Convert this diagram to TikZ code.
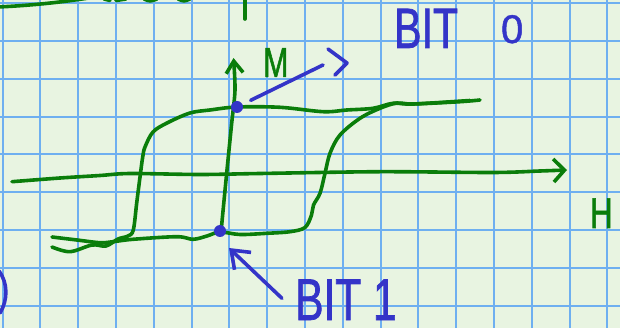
\documentclass[tikz,border=0pt]{standalone}
\usepackage{fontspec}
\setmainfont{Liberation Sans}
\newfontfamily\penfont[FakeStretch=0.72,FakeBold=1.2]{Liberation Sans}
\newfontfamily\roundfont[FakeBold=1.2]{Liberation Sans}
\usepackage{tikz}
\usetikzlibrary{arrows.meta, positioning}
\definecolor{paper}{RGB}{232,244,225}
\definecolor{gridblue}{RGB}{110,175,240}
\definecolor{penGreen}{RGB}{10,125,10}
\definecolor{penBlue}{RGB}{52,52,200}

\begin{document}
\begin{tikzpicture}[x=1pt,y=-1pt,
  gline/.style={gridblue,line width=2pt},
  ink/.style={penGreen,line width=3.6pt,line cap=round,line join=round},
  bink/.style={penBlue,line width=3.6pt,line cap=round,line join=round},
  bitdot/.style={circle,fill=penBlue,inner sep=0pt,minimum size=12pt},
  hand/.style={inner sep=0pt,anchor=base west}]
  \useasboundingbox (0,0) rectangle (620,328);
  \fill[paper] (0,0) rectangle (620,328);
  \foreach \i in {0,...,16} {\draw[gline] ({2.5+37.8*\i},0) -- ++(0,328);}
  \foreach \j in {0,...,8} {\draw[gline] (0,{3.3+37.8*\j}) -- ++(620,0);}
  % bits of writing cut off by the page edges
  \draw[ink] (-2,7) .. controls (40,5) and (70,1) .. (95,-3);
  \draw[ink] (104,-1) -- (110,0.5) (116,0.5) -- (126,-1) (144,-1) .. controls (150,1.5) .. (157,-1);
  \draw[ink] (178,-1) .. controls (184,1.5) .. (190,-1);
  \draw[ink] (245,-2) -- (245,19);
  \draw[bink] (-1,271) .. controls (8,283) and (8,300) .. (0,313);
  % axes
  \draw[ink,-{Straight Barb[length=11pt,width=23pt]}] plot[smooth] coordinates
    {(12,181.7)(60,178)(100,175.5)(130,173.5)(200,174.5)(260,173.5)(380,171.7)(493,172.5)(540,171)(567,170)};
  \draw[ink,-{Straight Barb[length=12pt,width=17pt]}] plot[smooth] coordinates
    {(221,232)(226.7,173)(231.7,123)(235,90)(233.5,58)};
  \node[hand,text=penGreen,font=\penfont\fontsize{42}{42}\selectfont] (mlabel) at (263,77) {M};
  \node[hand,text=penGreen,font=\penfont\fontsize{43}{43}\selectfont] (hlabel) at (590,228) {H};
  % hysteresis loop
  \draw[ink] plot[smooth,tension=0.55] coordinates
    {(52,237)(77,240)(100,242.7)(113,241.7)(133,239.3)(177,236.7)(193,239.3)(207,236)(220,232)(240,234.5)
     (267,233.3)(290,231.7)(305,227.5)(311.5,215)(313.5,205)(320,193.3)(325,173.3)(330,153.3)(340,135)
     (360,118.3)(380,108.3)(397,103)(413,104)(460,101.7)(480,100)};
  \draw[ink] plot[smooth,tension=0.55] coordinates
    {(470,100.5)(413,104)(393,103.3)(373,108.3)(346.7,110)(323.3,111.7)(280,107.3)(237,107)(210,110)
     (190,113)(167,123)(153,132)(145,147)(142.7,157)(140,177)(136.7,203)(133.3,230)(128,236)(118,239)
     (106,246)(92,245)(70,251.7)(52,247)};
  % the two states
  \node[bitdot] (dotzero) at (237,107) {};
  \node[bitdot] (dotone) at (220,231) {};
  \node[hand,text=penBlue,font=\penfont\fontsize{57}{57}\selectfont] (bitzero) at (394,48)
    {BIT\hspace{43pt}\raisebox{5pt}{\roundfont\fontsize{40}{40}\selectfont 0}};
  \node[hand,text=penBlue,font=\penfont\fontsize{59}{59}\selectfont] (bitone) at (295,320) {BIT 1};
  \coordinate (zerotip) at (323,65);
  \coordinate (onetip) at (229,248);
  \draw[bink,shorten <=9pt] (dotzero) -- (zerotip);
  \draw[bink] (zerotip) ++(5,-16) -- ++(19,14) -- ++(-12,12);
  \draw[bink,-{Straight Barb[length=16pt,width=24pt]},shorten <=18pt] ([yshift=-11pt]bitone.west) -- (onetip);
\end{tikzpicture}
\end{document}
